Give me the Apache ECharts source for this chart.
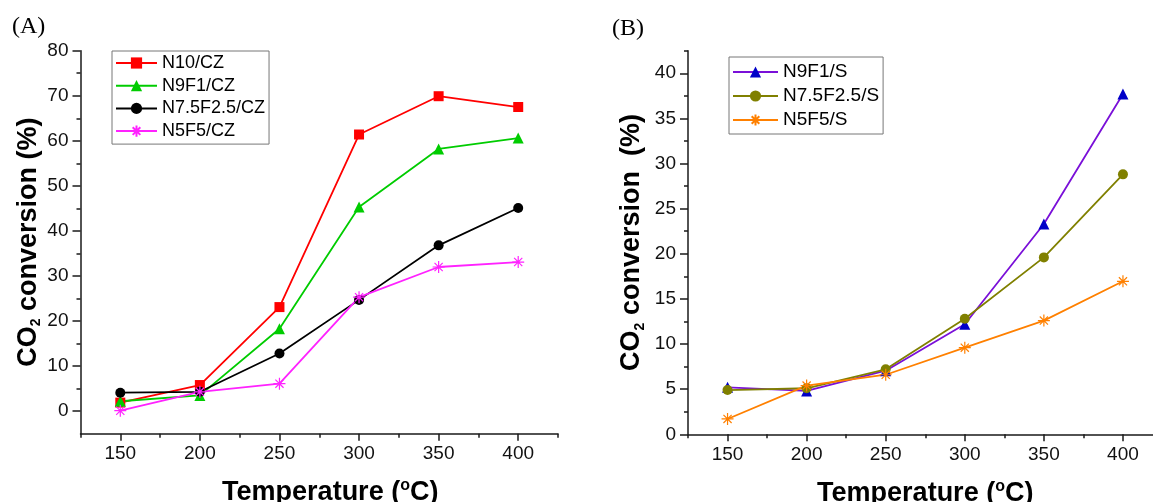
<!DOCTYPE html>
<html>
<head>
<meta charset="utf-8">
<script src="https://cdn.jsdelivr.net/npm/echarts@6/dist/echarts.min.js"></script>
<style>
html,body{margin:0;padding:0;background:#fff;}
#chart{width:1153px;height:502px;}
</style>
</head>
<body>
<div id="chart"></div>
<script>
// ---- data ----
const temps = [150, 200, 250, 300, 350, 400];
const n10CZ = [1.9, 5.8, 23.1, 61.4, 69.9, 67.5];
const n9f1CZ = [2.2, 3.5, 18.3, 45.3, 58.2, 60.6];
const n75f25CZ = [4.1, 4.3, 12.8, 24.7, 36.8, 45.1];
const n5f5CZ = [0.1, 4.3, 6.1, 25.3, 32.0, 33.1];
const n9f1S = [5.2, 4.8, 7.05, 12.2, 23.3, 37.7];
const n75f25S = [4.9, 5.1, 7.2, 12.8, 19.6, 28.8];
const n5f5S = [1.7, 5.4, 6.6, 9.6, 12.6, 16.95];
const xMajorTicks = [150, 200, 250, 300, 350, 400];
const xMinorTicks = [125, 175, 225, 275, 325, 375, 425];
const yMajorTicksA = [0, 10, 20, 30, 40, 50, 60, 70, 80];
const yMinorTicksA = [5, 15, 25, 35, 45, 55, 65, 75];
const yMajorTicksB = [0, 5, 10, 15, 20, 25, 30, 35, 40];
const yMinorTicksB = [2.5, 7.5, 12.5, 17.5, 22.5, 27.5, 32.5, 37.5, 42.5];
const namesA = ['N10/CZ', 'N9F1/CZ', 'N7.5F2.5/CZ', 'N5F5/CZ'];
const namesB = ['N9F1/S', 'N7.5F2.5/S', 'N5F5/S'];

const pairs = vals => temps.map((t, i) => [t, vals[i]]);
const FONT = '"Liberation Sans", Arial, sans-serif';
const AX = '#1a1a1a';
const asterisk = 'path://M5,0L5,10M0,5L10,5M1.6,1.6L8.4,8.4M1.6,8.4L8.4,1.6';

const nameRich = {
  sub: {fontSize: 14, fontWeight: 'bold', fontFamily: FONT, color: '#000', verticalAlign: 'bottom', lineHeight: 30},
  sup: {fontSize: 16, fontWeight: 'bold', fontFamily: FONT, color: '#000', verticalAlign: 'top', lineHeight: 30}
};
const nameStyle = extra => Object.assign({
  fontSize: 27, fontWeight: 'bold', fontFamily: FONT, color: '#000', lineHeight: 30, rich: nameRich
}, extra || {});

function xAxes(grid, extraPad) {
  return [
    {
      type: 'value', gridIndex: grid, position: 'bottom', min: 125, max: 425,
      axisLine: {show: true, onZero: false, lineStyle: {color: AX, width: 1.5}},
      axisTick: {show: true, length: 7, customValues: xMajorTicks, lineStyle: {color: AX, width: 1.5}},
      axisLabel: {customValues: xMajorTicks, fontSize: 19, fontFamily: FONT, color: '#111', margin: 11},
      splitLine: {show: false},
      name: 'Temperature ({sup|o}C)', nameLocation: 'middle', nameGap: 44,
      nameTextStyle: nameStyle(extraPad ? {padding: [0, 0, 0, extraPad]} : {})
    },
    {
      type: 'value', gridIndex: grid, position: 'bottom', min: 125, max: 425,
      axisLine: {show: false, onZero: false},
      axisTick: {show: true, length: 4, customValues: xMinorTicks, lineStyle: {color: AX, width: 1.5}},
      axisLabel: {show: false}, splitLine: {show: false}
    }
  ];
}
function yAxes(grid, min, max, major, minor, name, gap) {
  return [
    {
      type: 'value', gridIndex: grid, position: 'left', min: min, max: max,
      axisLine: {show: true, onZero: false, lineStyle: {color: AX, width: 1.5}},
      axisTick: {show: true, length: 8, customValues: major, lineStyle: {color: AX, width: 1.5}},
      axisLabel: {customValues: major, fontSize: 19, fontFamily: FONT, color: '#111', margin: 12},
      splitLine: {show: false},
      name: name, nameLocation: 'middle', nameGap: gap,
      nameTextStyle: nameStyle()
    },
    {
      type: 'value', gridIndex: grid, position: 'left', min: min, max: max,
      axisLine: {show: false, onZero: false},
      axisTick: {show: true, length: 4, customValues: minor, lineStyle: {color: AX, width: 1.5}},
      axisLabel: {show: false}, splitLine: {show: false}
    }
  ];
}
function line(name, vals, xi, yi, lineColor, markColor, symbol, size, hollow) {
  return {
    type: 'line', name: name, data: pairs(vals), xAxisIndex: xi, yAxisIndex: yi,
    symbol: symbol, symbolSize: size, showSymbol: true, showAllSymbol: true,
    lineStyle: {color: lineColor, width: 1.8},
    itemStyle: hollow
      ? {color: 'rgba(0,0,0,0)', borderColor: markColor, borderWidth: 1.2}
      : {color: markColor, borderWidth: 0},
    emphasis: {disabled: true},
    z: 3
  };
}

const chart = echarts.init(document.getElementById('chart'), null, {renderer: 'canvas'});
chart.setOption({
  animation: false,
  backgroundColor: '#fff',
  title: [
    {text: '(A)', left: 12, top: 15, padding: 0,
     textStyle: {fontFamily: '"Liberation Serif", "Times New Roman", serif', fontWeight: 'normal', fontSize: 24, color: '#000'}},
    {text: '(B)', left: 612, top: 17, padding: 0,
     textStyle: {fontFamily: '"Liberation Serif", "Times New Roman", serif', fontWeight: 'normal', fontSize: 24, color: '#000'}}
  ],
  grid: [
    {left: 80.5, top: 50.7, width: 477.5, height: 383, containLabel: false, outerBoundsMode: 'none'},
    {left: 688, top: 50.7, width: 474.5, height: 383.6, containLabel: false, outerBoundsMode: 'none'}
  ],
  xAxis: xAxes(0, 22).concat(xAxes(1, 0)),
  yAxis: yAxes(0, -5, 80, yMajorTicksA, yMinorTicksA, 'CO{sub|2} conversion (%)', 36)
    .concat(yAxes(1, 0, 42.5, yMajorTicksB, yMinorTicksB, 'CO{sub|2} conversion  (%)', 41)),
  legend: [
    {
      data: namesA, orient: 'vertical', left: 112, top: 51,
      itemWidth: 41, itemHeight: 14, itemGap: 2.7,
      padding: [2, 4, 3, 3], borderColor: '#777', borderWidth: 1,
      textStyle: {fontSize: 18, fontFamily: FONT, color: '#000', lineHeight: 20},
      selectedMode: false
    },
    {
      data: namesB, orient: 'vertical', left: 729, top: 57,
      itemWidth: 45, itemHeight: 14, itemGap: 2,
      padding: [4, 4, 3, 3], borderColor: '#777', borderWidth: 1,
      textStyle: {fontSize: 19, fontFamily: FONT, color: '#000', lineHeight: 22},
      selectedMode: false
    }
  ],
  series: [
    line('N10/CZ', n10CZ, 0, 0, '#ff0000', '#ff0000', 'rect', 10),
    line('N9F1/CZ', n9f1CZ, 0, 0, '#00cc00', '#00cc00', 'triangle', 11),
    line('N7.5F2.5/CZ', n75f25CZ, 0, 0, '#000000', '#000000', 'circle', 10),
    line('N5F5/CZ', n5f5CZ, 0, 0, '#ff22ff', '#ff22ff', asterisk, 12, true),
    line('N9F1/S', n9f1S, 2, 2, '#7a10d8', '#0000c8', 'triangle', 11),
    line('N7.5F2.5/S', n75f25S, 2, 2, '#808000', '#808000', 'circle', 10),
    line('N5F5/S', n5f5S, 2, 2, '#ff8000', '#ff8000', asterisk, 12, true)
  ]
});
</script>
</body>
</html>
